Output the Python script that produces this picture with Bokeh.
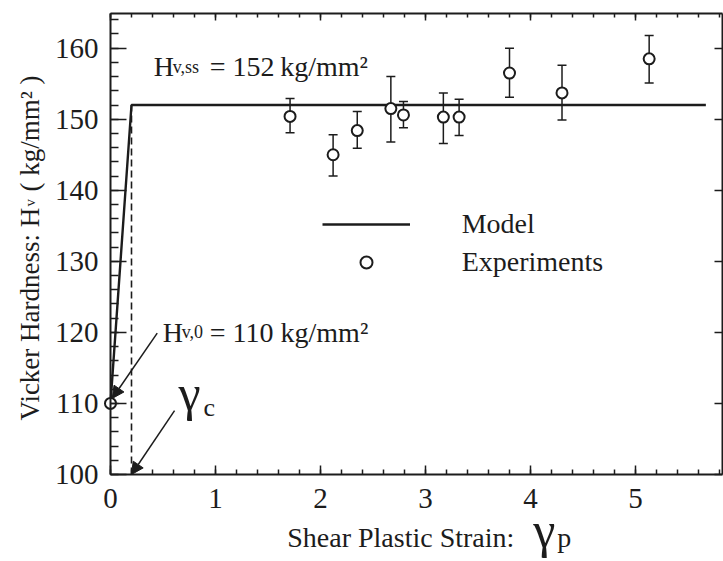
import math
from bokeh.plotting import figure
from bokeh.models import (ColumnDataSource, LinearAxis, SingleIntervalTicker, Range1d,
                          Whisker, TeeHead, Arrow, NormalHead, Legend, LegendItem, Label,
                          CustomJSTickFormatter)
from bokeh.embed import file_html
from bokeh.resources import INLINE

FONT = "Liberation Serif"
INK = "#1c1c1c"

# ---------------- data ----------------
exp_strain = [0.0, 1.71, 2.12, 2.35, 2.67, 2.79, 3.17, 3.32, 3.80, 4.30, 5.13]
exp_hv = [110.0, 150.4, 145.0, 148.4, 151.5, 150.6, 150.3, 150.3, 156.5, 153.7, 158.5]
exp_hv_upper = [None, 152.9, 147.8, 151.1, 156.0, 152.5, 153.7, 152.8, 160.0, 157.6, 161.8]
exp_hv_lower = [None, 148.1, 142.0, 145.9, 146.8, 148.8, 146.6, 147.7, 153.1, 149.9, 155.1]

gamma_c = 0.2
hv_0 = 110
hv_ss = 152
strain_max_model = 5.67
model_strain = [0.0, gamma_c, strain_max_model]
model_hv = [hv_0, hv_ss, hv_ss]

# axes box (data units) and the visible window around it
axis_x = [0.0, 5.824]
axis_y = [100.0, 164.88]
view_x = [-1.0476, 5.838]
view_y = [87.755, 166.71]
x_tick_step = 1
y_tick_step = 10

# annotation arrows (from text to target)
arrow_x0 = [0.445, 0.61]
arrow_y0 = [119.9, 109.0]
arrow_x1 = [0.016, gamma_c]
arrow_y1 = [110.7, 100.0]

# ---------------- figure ----------------
p = figure(width=723, height=561, x_range=Range1d(*view_x), y_range=Range1d(*view_y),
           x_axis_type=None, y_axis_type=None,
           output_backend="svg", toolbar_location=None,
           min_border=0,
           background_fill_color="white", border_fill_color="white",
           outline_line_color=None)
p.title.visible = False


def style_axis(ax, tick_in, minor_in, labels, loc, bounds, standoff=12):
    ax.fixed_location = loc
    ax.bounds = tuple(bounds)
    ax.axis_line_color = INK
    ax.axis_line_width = 2
    ax.major_tick_line_color = INK
    ax.major_tick_line_width = 1.5
    ax.major_tick_in = tick_in
    ax.major_tick_out = 0
    ax.minor_tick_line_color = INK if minor_in else None
    ax.minor_tick_line_width = 1.5
    ax.minor_tick_in = minor_in
    ax.minor_tick_out = 0
    ax.major_label_text_font = FONT
    ax.major_label_text_color = INK
    ax.major_label_text_font_size = "29px"
    ax.major_label_standoff = standoff
    if not labels:
        ax.formatter = CustomJSTickFormatter(code="return ''")
        ax.major_label_standoff = 0
    ax.axis_label = None


xb = LinearAxis(ticker=SingleIntervalTicker(interval=x_tick_step, num_minor_ticks=5))
style_axis(xb, 9, 5, True, axis_y[0], axis_x, standoff=15)
xt = LinearAxis(ticker=SingleIntervalTicker(interval=x_tick_step, num_minor_ticks=5))
style_axis(xt, 7, 4, False, axis_y[1], axis_x)
yl = LinearAxis(ticker=SingleIntervalTicker(interval=y_tick_step, num_minor_ticks=5))
style_axis(yl, 16, 8, True, axis_x[0], axis_y, standoff=12)
yr = LinearAxis(ticker=SingleIntervalTicker(interval=y_tick_step, num_minor_ticks=5))
style_axis(yr, 8, 0, False, axis_x[1], axis_y)
p.add_layout(xb, "below")
p.add_layout(xt, "above")
p.add_layout(yl, "left")
p.add_layout(yr, "right")

# ---------------- glyphs ----------------
p.line(x=[gamma_c, gamma_c], y=[axis_y[0], hv_ss], line_color=INK, line_width=1.6,
       line_dash="7 4")
model_r = p.line(x=model_strain, y=model_hv, line_color=INK, line_width=2.4)

err_src = ColumnDataSource(dict(
    x=[s for s, u in zip(exp_strain, exp_hv_upper) if u is not None],
    upper=[u for u in exp_hv_upper if u is not None],
    lower=[l for l in exp_hv_lower if l is not None],
))
wh = Whisker(source=err_src, base="x", upper="upper", lower="lower", dimension="height",
             line_color=INK, line_width=1.5, level="underlay",
             upper_head=TeeHead(size=9, line_color=INK, line_width=1.5),
             lower_head=TeeHead(size=9, line_color=INK, line_width=1.5))
p.add_layout(wh)

exp_r = p.scatter(x=exp_strain, y=exp_hv, marker="circle", size=11, fill_color="white",
                  line_color=INK, line_width=2)

# ---------------- legend ----------------
legend = Legend(items=[LegendItem(label="Model", renderers=[model_r]),
                       LegendItem(label="Experiments", renderers=[exp_r])],
                location=(321.7, 283.5), orientation="vertical",
                border_line_color=None, background_fill_alpha=0,
                padding=0, margin=0, glyph_width=88, glyph_height=30, label_height=30,
                label_standoff=52, spacing=6,
                label_text_font=FONT, label_text_font_size="28px", label_text_color=INK)
p.add_layout(legend, "center")

# ---------------- arrows ----------------
arr_src = ColumnDataSource(dict(x0=arrow_x0, y0=arrow_y0, x1=arrow_x1, y1=arrow_y1))
p.add_layout(Arrow(source=arr_src, x_start="x0", y_start="y0", x_end="x1", y_end="y1",
                   line_color=INK, line_width=1.5,
                   end=NormalHead(size=12, fill_color=INK, line_color=INK, line_width=1)))


# ---------------- texts ----------------
def lab(x, y, text, size, dx=0, dy=0, angle=0):
    p.add_layout(Label(x=x, y=y, text=text, x_offset=dx, y_offset=dy, angle=angle,
                       text_font=FONT, text_font_size=size, text_color=INK,
                       text_align="left", text_baseline="alphabetic"))


# H_v,ss annotation
lab(0.412, 157.42, "H", "28px")
lab(0.412, 157.42, "v,ss", "18px", dx=19)
lab(0.412, 157.42, f"= {hv_ss}\u2009kg/mm\u00b2", "28px", dx=56)

# H_v,0 annotation
lab(0.498, 120.03, "H", "28px")
lab(0.498, 120.03, "v,0", "18px", dx=19)
lab(0.498, 120.03, f"= {hv_0} kg/mm\u00b2", "28px", dx=47)

# gamma_c annotation
lab(0.648, 110.56, "\u03b3", "50px", dy=6)
lab(0.648, 110.56, "c", "26px", dx=25, dy=-8)

# x axis label
lab(1.683, 91.13, "Shear Plastic Strain:", "28px")
lab(1.683, 91.13, "\u03b3", "50px", dx=246, dy=8)
lab(1.683, 91.13, "p", "28px", dx=270)

# y axis label (rotated)
ang = math.pi / 2
lab(-0.762, 107.6, "Vicker Hardness: H", "27px", angle=ang)
lab(-0.762, 107.6, "v", "15px", dy=214, angle=ang)
lab(-0.762, 107.6, "( kg/mm\u00b2 )", "27px", dy=229, angle=ang)

open("out.html", "w").write(file_html(p, INLINE))
